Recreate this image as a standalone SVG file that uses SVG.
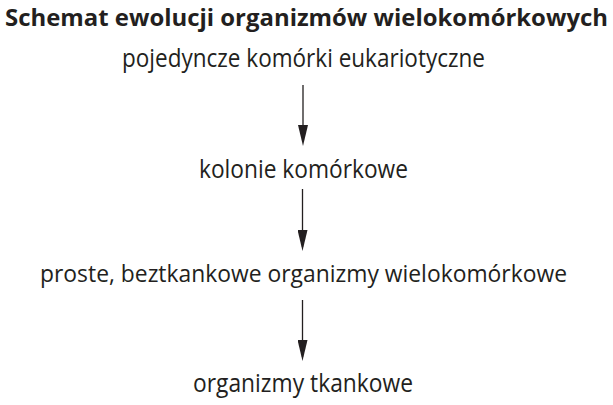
<svg xmlns="http://www.w3.org/2000/svg" width="613" height="405" viewBox="0 0 613 405">
  <style>
    .t { font-family: "Open Sans", "Liberation Sans", sans-serif; font-size: 26px; fill: #231f20; text-anchor: middle; }
    .title { font-weight: bold; font-size: 24px; }
    .long { font-size: 24px; }
    .conn { stroke: #231f20; stroke-width: 1.3; fill: none; }
  </style>
  <defs>
    <marker id="arrow" markerUnits="userSpaceOnUse" markerWidth="21" markerHeight="10" viewBox="0 0 21 10" refX="17" refY="5" orient="auto">
      <path d="M0,0 L21,5 L0,10 z" fill="#231f20"/>
    </marker>
  </defs>
  <rect width="613" height="405" fill="#ffffff"/>
  <g id="title">
    <text class="t title" x="306.5" y="26" textLength="603" lengthAdjust="spacingAndGlyphs">Schemat ewolucji organizmów wielokomórkowych</text>
  </g>
  <g id="node1">
    <text class="t" x="303.5" y="67" textLength="363" lengthAdjust="spacingAndGlyphs">pojedyncze komórki eukariotyczne</text>
  </g>
  <g id="node2">
    <text class="t" x="303.5" y="178" textLength="209" lengthAdjust="spacingAndGlyphs">kolonie komórkowe</text>
  </g>
  <g id="node3">
    <text class="t long" x="303.5" y="282" textLength="527" lengthAdjust="spacingAndGlyphs">proste, beztkankowe organizmy wielokomórkowe</text>
  </g>
  <g id="node4">
    <text class="t" x="303" y="392" textLength="220" lengthAdjust="spacingAndGlyphs">organizmy tkankowe</text>
  </g>
  <g id="connectors">
    <line class="conn" x1="303" y1="85" x2="303" y2="142" marker-end="url(#arrow)"/>
    <line class="conn" x1="302.5" y1="189" x2="302.5" y2="247" marker-end="url(#arrow)"/>
    <line class="conn" x1="302.5" y1="300" x2="302.5" y2="357" marker-end="url(#arrow)"/>
  </g>
</svg>
